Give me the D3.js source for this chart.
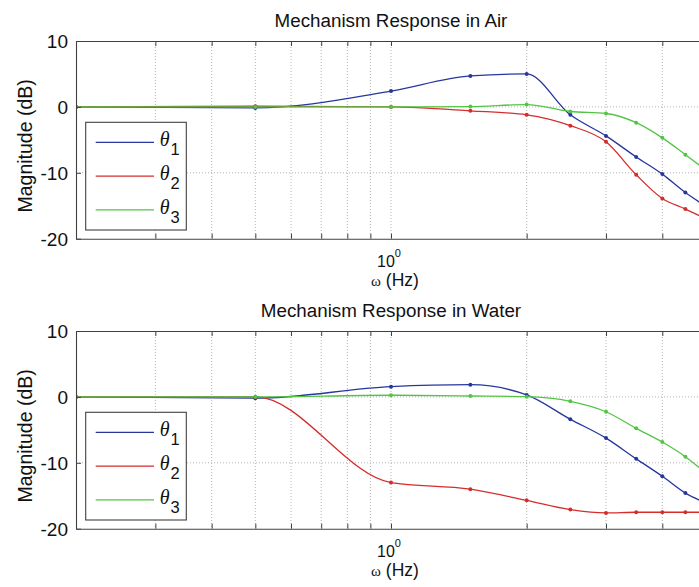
<!DOCTYPE html>
<html>
<head>
<meta charset="utf-8">
<script src="https://cdn.jsdelivr.net/npm/d3@7"></script>
<style>
  html, body { margin: 0; padding: 0; background: #fff; }
  svg { display: block; }
</style>
</head>
<body>
<svg id="chart" width="699" height="587"></svg>
<script>
// ---------------- data ----------------
const freqs = [0.2, 0.5, 1, 1.5, 2, 2.5, 3, 3.5, 4, 4.5, 5];

const airTheta1 = [0, -0.15, 2.4, 4.7, 5.0, -1.2, -4.4, -7.6, -10.2, -13.0, -15.1];
const airTheta2 = [0, 0.1, 0, -0.6, -1.2, -2.85, -5.3, -10.3, -13.9, -15.5, -17.0];
const airTheta3 = [0, 0, 0, 0.05, 0.35, -0.7, -1.0, -2.4, -4.7, -7.25, -9.6];

const waterTheta1 = [0, -0.2, 1.55, 1.85, 0.3, -3.4, -6.25, -9.4, -12.05, -14.6, -16.1];
const waterTheta2 = [0, 0, -13.0, -14.0, -15.7, -17.1, -17.6, -17.5, -17.5, -17.5, -17.5];
const waterTheta3 = [0, 0, 0.25, 0.14, 0.03, -0.67, -2.25, -4.77, -6.85, -9.07, -11.6];

const seriesNames = ["1", "2", "3"];           // subscripts of θ
const seriesColors = ["#26379e", "#d62c2c", "#52c544"];
const panelTitles = ["Mechanism Response in Air", "Mechanism Response in Water"];
const xTickValues = [0.2, 0.3, 0.4, 0.5, 0.6, 0.7, 0.8, 0.9, 1, 2, 3, 4, 5];
const xLabelTicks = [1];
const yTickValues = [-20, -10, 0, 10];
const yDomain = [-20, 10];
const xDomain = [0.2, 5];

// ---------------- layout ----------------
const svg = d3.select("#chart");
const left = 76, right = 706;
const panels = [
  { top: 41, bottom: 238.7, title: panelTitles[0], data: [airTheta1, airTheta2, airTheta3] },
  { top: 331, bottom: 528.7, title: panelTitles[1], data: [waterTheta1, waterTheta2, waterTheta3] }
];

const x = d3.scaleLog().domain(xDomain).range([left, right]);
const axisColor = "#404040";
const gridColor = "#b4b4b4";
const sans = "'Liberation Sans', Arial, Helvetica, sans-serif";
const serif = "'Liberation Serif', 'Times New Roman', serif";

panels.forEach((p, pi) => {
  const y = d3.scaleLinear().domain(yDomain).range([p.bottom, p.top]);
  const g = svg.append("g");

  g.append("rect").attr("x", left).attr("y", p.top)
    .attr("width", right - left).attr("height", p.bottom - p.top)
    .attr("fill", "#fff");

  // grid lines
  g.append("g").selectAll("line").data(xTickValues.filter(v => v > xDomain[0] && v < xDomain[1]))
    .join("line")
    .attr("x1", d => x(d)).attr("x2", d => x(d))
    .attr("y1", p.top).attr("y2", p.bottom)
    .attr("stroke", gridColor).attr("stroke-width", 1).attr("stroke-dasharray", "1,2");
  g.append("g").selectAll("line").data(yTickValues.filter(v => v > yDomain[0] && v < yDomain[1]))
    .join("line")
    .attr("x1", left).attr("x2", right)
    .attr("y1", d => y(d)).attr("y2", d => y(d))
    .attr("stroke", gridColor).attr("stroke-width", 1).attr("stroke-dasharray", "1,2");

  const clipId = "clip" + pi;
  svg.append("clipPath").attr("id", clipId).append("rect")
    .attr("x", left).attr("y", p.top).attr("width", right - left).attr("height", p.bottom - p.top);

  const line = d3.line().x((d, i) => x(freqs[i])).y(d => y(d)).curve(d3.curveMonotoneX);
  const plot = g.append("g").attr("clip-path", `url(#${clipId})`);
  p.data.forEach((vals, si) => {
    plot.append("path").datum(vals)
      .attr("d", line).attr("fill", "none")
      .attr("stroke", seriesColors[si]).attr("stroke-width", 1.3);
  });
  p.data.forEach((vals, si) => {
    plot.append("g").selectAll("circle").data(vals).join("circle")
      .attr("cx", (d, i) => x(freqs[i])).attr("cy", d => y(d))
      .attr("r", 2).attr("fill", seriesColors[si]);
  });

  // axes (ticks inward)
  const axB = d3.axisBottom(x).tickValues(xTickValues).tickSizeInner(-5).tickSizeOuter(0).tickFormat("");
  const axT = d3.axisTop(x).tickValues(xTickValues).tickSizeInner(-5).tickSizeOuter(0).tickFormat("");
  const axL = d3.axisLeft(y).tickValues(yTickValues).tickSizeInner(-5).tickSizeOuter(0).tickFormat("");
  const gB = g.append("g").attr("transform", `translate(0,${p.bottom})`).call(axB);
  const gT = g.append("g").attr("transform", `translate(0,${p.top})`).call(axT);
  const gL = g.append("g").attr("transform", `translate(${left},0)`).call(axL);
  [gB, gT, gL].forEach(a => {
    a.selectAll("path").attr("stroke", axisColor).attr("stroke-width", 1.1);
    a.selectAll("line").attr("stroke", axisColor).attr("stroke-width", 1);
  });

  // y tick labels
  g.append("g").selectAll("text").data(yTickValues).join("text")
    .attr("x", 68).attr("y", d => y(d) + 6.8)
    .attr("text-anchor", "end")
    .attr("font-family", sans).attr("font-size", 19).attr("fill", "#111")
    .text(d => d);

  // x tick labels (10^0)
  xLabelTicks.forEach(v => {
    const t = g.append("text")
      .attr("x", x(v) - 14).attr("y", p.bottom + 28.5)
      .attr("font-family", sans).attr("font-size", 16).attr("fill", "#111");
    t.append("tspan").text("10");
    t.append("tspan").attr("font-size", 11).attr("dy", -10).text(Math.round(Math.log10(v)));
  });

  // x label
  const xl = g.append("text")
    .attr("x", 395).attr("y", p.bottom + 47.5)
    .attr("text-anchor", "middle")
    .attr("font-family", sans).attr("font-size", 17.5).attr("fill", "#111");
  xl.append("tspan").attr("font-family", serif).attr("font-size", 15).text("ω");
  xl.append("tspan").text(" (Hz)");

  // y label
  g.append("text")
    .attr("transform", `translate(32,${(p.top + p.bottom) / 2 + 6}) rotate(-90)`)
    .attr("text-anchor", "middle")
    .attr("font-family", sans).attr("font-size", 19.5).attr("fill", "#111")
    .text("Magnitude (dB)");

  // title
  g.append("text")
    .attr("x", 391).attr("y", p.top - 14.3)
    .attr("text-anchor", "middle")
    .attr("font-family", sans).attr("font-size", 18.8).attr("fill", "#111")
    .text(p.title);

  // legend
  const lx = 85.7, ly = p.top + 81.3;
  const lg = g.append("g").attr("transform", `translate(${lx},${ly})`);
  lg.append("rect").attr("width", 100.6).attr("height", 107.7)
    .attr("fill", "#fff").attr("stroke", axisColor).attr("stroke-width", 1.1);
  seriesNames.forEach((nm, si) => {
    const yy = 20 + si * 33.8;
    lg.append("line").attr("x1", 10).attr("x2", 68.3).attr("y1", yy).attr("y2", yy)
      .attr("stroke", seriesColors[si]).attr("stroke-width", 1.3);
    const tx = lg.append("text").attr("x", 74).attr("y", yy + 4)
      .attr("font-family", serif).attr("font-style", "italic").attr("font-size", 20).attr("fill", "#111");
    tx.append("tspan").text("θ");
    tx.append("tspan").attr("font-family", sans).attr("font-style", "normal")
      .attr("font-size", 16.5).attr("dy", 9).attr("dx", 1).text(nm);
  });
});
</script>
</body>
</html>
